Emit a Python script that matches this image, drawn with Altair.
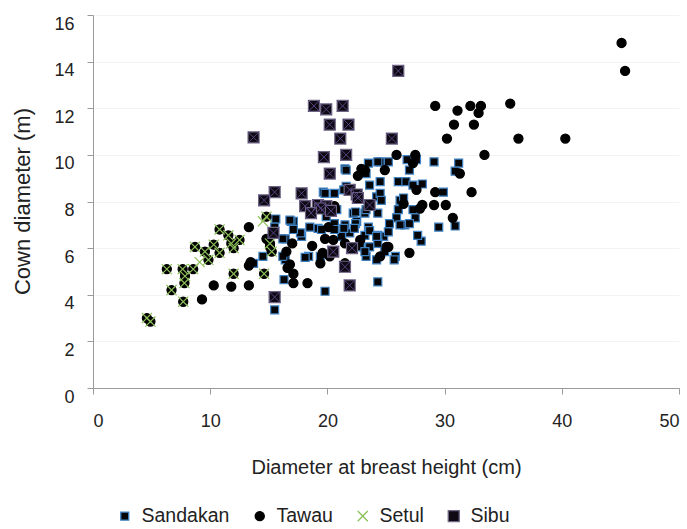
import altair as alt
import pandas as pd

# ---- data: DBH (cm), crown diameter (m) ----
sand_x = [23.5, 24.5, 25.2, 27.0, 29.1, 31.2, 21.5, 21.6, 23.3, 24.3, 26.8, 27.6,
          26.05, 26.7, 27.3, 28.1, 29.9, 24.5, 23.6, 21.6, 21.4, 19.65, 24.2, 24.5,
          20.6, 19.8, 26.2, 24.6, 17.1, 26.05, 27.3, 25.9, 27.5, 26.6, 25.3, 24.8,
          24.3, 25.8, 28.0, 29.5, 30.9, 23.5, 22.5, 21.5, 20.6, 19.2, 18.4, 17.8,
          16.4, 16.3, 19.8, 24.3, 23.3, 22.8, 23.6, 21.9, 21.2, 22.2, 23.2, 24.3,
          17.7, 15.6, 15.5, 16.9, 17.1, 16.4, 18.5, 19.5, 21.4, 22.4, 23.2, 24.3,
          25.2, 26.2, 27.0, 27.7, 23.2, 24.2, 22.4, 20.8, 19.9, 23.3, 19.4, 14.5,
          13.7, 16.8, 16.2, 20.6, 22.3, 23.6, 24.2, 24.9, 25.7, 16.2, 15.5, 18.1,
          30.9, 26.5]
sand_y = [9.65, 9.7, 9.7, 9.35, 9.7, 9.65, 9.4, 9.35, 9.2, 9.7, 9.8, 9.8,
          8.85, 8.85, 8.7, 8.75, 8.4, 8.85, 8.7, 8.65, 8.5, 8.4, 8.2, 8.35,
          8.35, 8.35, 8.05, 8.05, 7.15, 7.65, 7.65, 7.3, 7.3, 7.0, 7.05, 6.5,
          6.2, 5.65, 6.3, 6.9, 6.95, 6.9, 7.15, 7.0, 7.05, 6.85, 5.65, 6.5,
          5.5, 4.65, 4.15, 4.55, 5.65, 6.05, 6.05, 6.65, 6.5, 7.5, 7.5, 7.5,
          6.65, 7.25, 6.9, 7.15, 6.8, 6.4, 6.9, 6.8, 6.85, 7.05, 6.55, 6.55,
          6.7, 7.0, 7.05, 6.55, 5.85, 5.5, 7.55, 7.65, 7.35, 7.65, 5.65, 5.65,
          5.35, 7.2, 6.4, 6.8, 6.85, 6.75, 6.5, 5.85, 5.5, 5.65, 3.35, 5.6,
          9.3, 8.15]

tawau_x = [45.1, 45.4, 29.2, 31.1, 32.2, 33.1, 32.9, 35.6, 30.8, 32.5, 30.2, 36.3,
           40.3, 33.4, 25.9, 27.5, 27.3, 24.9, 23.2, 22.6, 31.3, 27.6, 29.2, 32.3,
           26.5, 28.1, 27.9, 29.1, 30.1, 30.7, 27.0, 24.5, 25.2, 20.1, 19.8, 18.7,
           17.0, 17.1, 18.3, 16.6, 17.1, 19.6, 19.4, 21.5, 22.8, 21.5, 20.6, 20.5,
           16.5, 15.1, 13.3, 14.8, 9.3, 10.3, 11.8, 13.3, 13.3, 13.45, 22.9, 25.05,
           20.2, 16.8,
           4.9, 4.6, 6.3, 6.7, 7.7, 7.65, 8.55, 7.85, 7.8, 8.7, 9.55, 9.85,
           10.3, 10.8, 10.8, 11.55, 11.8, 12.5, 12.0, 12.0, 14.6, 14.8, 15.25, 15.1]
tawau_y = [14.8, 13.6, 12.1, 11.9, 12.1, 12.1, 11.8, 12.2, 11.3, 11.3, 10.7, 10.7,
           10.7, 10.0, 10.0, 10.0, 9.65, 9.35, 9.35, 9.1, 9.2, 8.5, 8.4, 8.4,
           7.9, 7.85, 7.7, 7.85, 7.85, 7.3, 5.8, 5.65, 6.05, 6.9, 6.4, 6.1,
           6.2, 4.5, 4.5, 5.15, 4.9, 5.8, 5.35, 5.35, 6.35, 6.2, 7.8, 6.35,
           5.85, 6.05, 6.9, 6.4, 3.8, 4.4, 4.35, 4.4, 5.25, 5.4, 9.4, 6.05,
           5.65, 5.3,
           2.85, 3.0, 5.1, 4.2, 3.7, 5.1, 5.1, 4.8, 4.5, 6.05, 5.85, 5.5,
           6.15, 5.8, 6.8, 6.55, 6.2, 6.35, 6.0, 4.9, 4.9, 7.35, 5.85, 6.2]

setul_x = [4.9, 4.6, 6.3, 6.7, 7.7, 7.65, 8.55, 7.85, 7.8, 8.7, 9.55, 9.85,
           9.1, 10.3, 10.8, 10.8, 11.55, 11.8, 12.5, 12.0, 12.0, 14.6, 14.8, 14.5,
           15.25, 15.1]
setul_y = [2.85, 3.0, 5.1, 4.2, 3.7, 5.1, 5.1, 4.8, 4.5, 6.05, 5.85, 5.5,
           5.4, 6.15, 5.8, 6.8, 6.55, 6.2, 6.35, 6.0, 4.9, 4.9, 7.35, 7.15,
           5.85, 6.2]

sibu_x = [26.05, 18.85, 19.9, 21.3, 20.2, 21.8, 21.1, 13.7, 25.5, 19.7, 21.6, 20.2,
          15.5, 14.6, 17.8, 18.1, 19.2, 19.9, 21.9, 22.5, 23.6, 15.4, 20.5, 22.1,
          21.5, 15.5, 21.9, 19.4, 22.6, 18.6, 20.3]
sibu_y = [13.6, 12.1, 11.95, 12.1, 11.3, 11.3, 10.7, 10.75, 10.7, 9.9, 10.0, 9.2,
          8.4, 8.05, 8.35, 7.8, 7.85, 7.8, 8.5, 8.3, 7.85, 6.65, 5.85, 6.0,
          5.2, 3.9, 4.4, 7.7, 8.15, 7.5, 7.6]

series_names = ["Sandakan", "Tawau", "Setul", "Sibu"]

frames = []
for name, xs, ys in [("Sandakan", sand_x, sand_y), ("Tawau", tawau_x, tawau_y),
                     ("Setul", setul_x, setul_y), ("Sibu", sibu_x, sibu_y)]:
    frames.append(pd.DataFrame({"dbh": xs, "cd": ys, "series": name}))
df = pd.concat(frames, ignore_index=True)
sibu_df = frames[3]

XPATH = "M-1,-1L1,1M1,-1L-1,1"
XPATH_SMALL = "M-0.85,-0.85L0.85,0.85M0.85,-0.85L-0.85,0.85"
FONT = "Liberation Sans"

leg = alt.Legend(title=None, orient="none", legendX=22, legendY=491,
                 direction="horizontal", labelFontSize=19.5, labelFont=FONT,
                 labelColor="#222222", columnPadding=20, labelOffset=7,
                 symbolStrokeWidth=1.3)

x_enc = alt.X("dbh:Q", scale=alt.Scale(domain=[0, 50], nice=False),
              axis=alt.Axis(values=[0, 10, 20, 30, 40, 50], grid=False,
                            title="Diameter at breast height (cm)",
                            titleY=79, titleBaseline="middle",
                            labelPadding=27, labelBaseline="middle"))
y_enc = alt.Y("cd:Q", scale=alt.Scale(domain=[0, 16], nice=False),
              axis=alt.Axis(values=list(range(0, 17, 2)), grid=True,
                            gridColor="#f3f3f3",
                            title="Cown diameter (m)", titleX=-71, titleY=186,
                            titleAngle=270, titleBaseline="middle",
                            labelPadding=13, labelOffset=9))

points = alt.Chart(df).mark_point(filled=True, strokeWidth=1.2, opacity=1).encode(
    x=x_enc, y=y_enc,
    shape=alt.Shape("series:N", scale=alt.Scale(domain=series_names,
                    range=["square", "circle", XPATH, "square"]), legend=leg),
    fill=alt.Fill("series:N", scale=alt.Scale(domain=series_names,
                  range=["#050505", "#000000", "transparent", "#0d0a14"]), legend=leg),
    stroke=alt.Stroke("series:N", scale=alt.Scale(domain=series_names,
                      range=["#3f82c4", "#000000", "#8dc05a", "#6f6585"]), legend=leg),
    size=alt.Size("series:N", scale=alt.Scale(domain=series_names,
                  range=[64, 121, 280, 169]), legend=leg),
)

sibu_cross = alt.Chart(sibu_df).mark_point(
    shape=XPATH_SMALL, filled=False, stroke="#56427f", strokeWidth=1, size=169, opacity=1
).encode(x="dbh:Q", y="cd:Q")

chart = alt.layer(points, sibu_cross).properties(
    width=586, height=373,
    autosize=alt.AutoSizeParams(type="none"),
    padding={"left": 93, "top": 15, "right": 8, "bottom": 141},
    background="white",
).configure_view(stroke=None).configure_axis(
    domainColor="#9a9a9a", tickColor="#9a9a9a", tickSize=6,
    labelFont=FONT, labelFontSize=18, labelColor="#222222",
    titleFont=FONT, titleFontSize=20, titleFontWeight="normal", titleColor="#222222",
).configure_axisY(titleFontSize=22)

chart.save("out.html", embed_options={"renderer": "svg", "actions": False})
